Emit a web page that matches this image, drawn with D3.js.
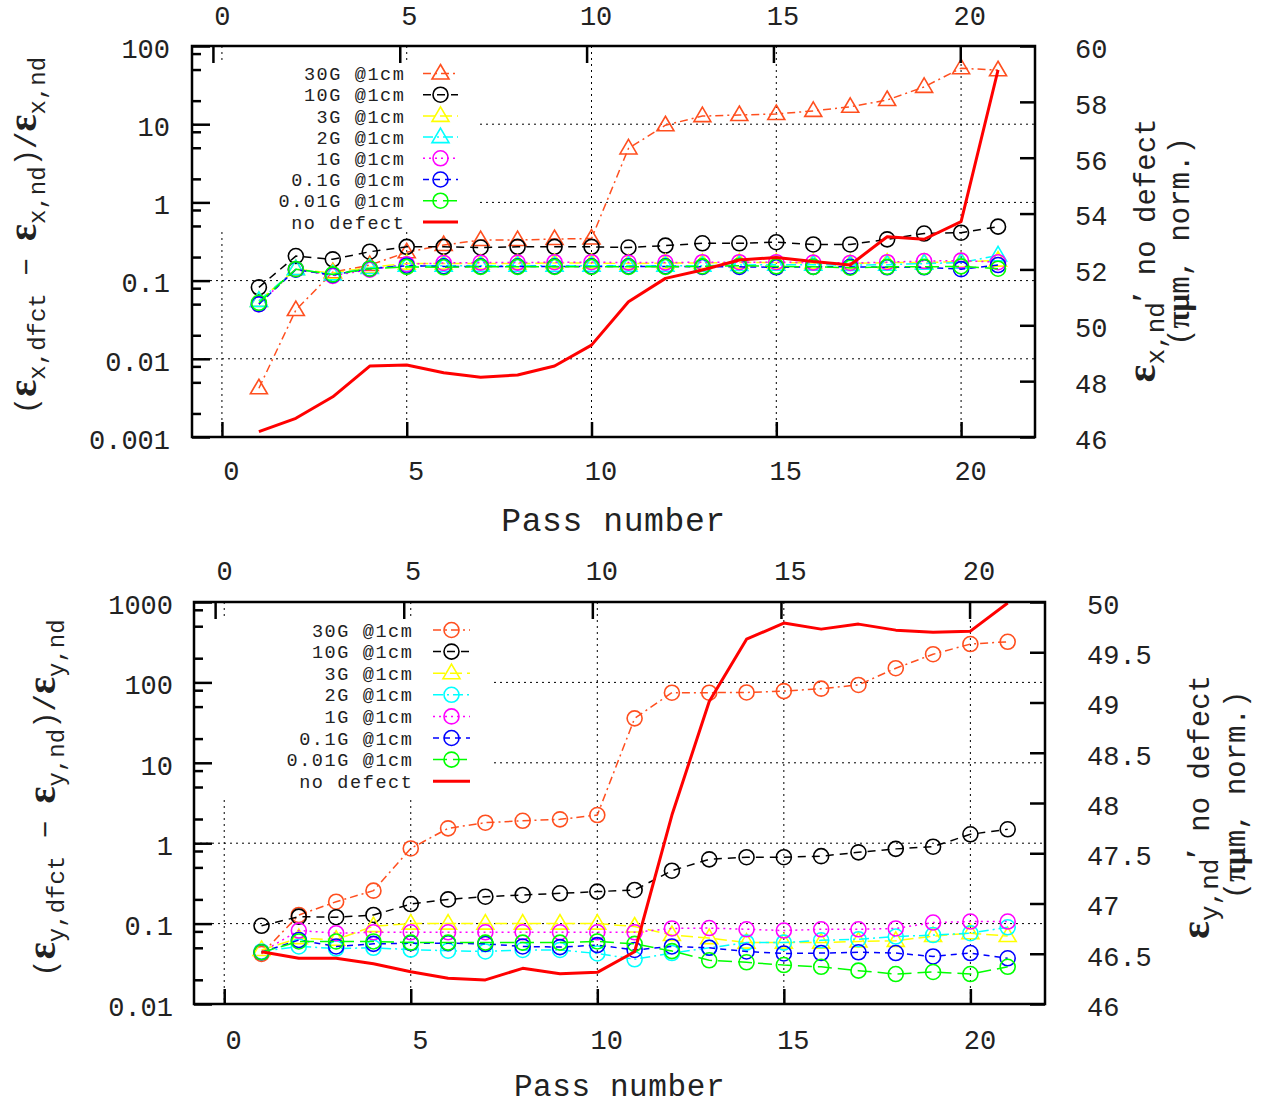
<!DOCTYPE html>
<html><head><meta charset="utf-8">
<script src="https://cdn.jsdelivr.net/npm/d3@7"></script>
<style>
body{margin:0;background:#fff}
svg{display:block}
text{font-family:"Liberation Mono","Courier New",monospace;fill:#222}
.eps{font-family:"Liberation Serif","DejaVu Serif",serif;font-weight:bold}
</style>
</head><body><svg id="c" width="1268" height="1105"></svg>
<script>
// ---------------- data ----------------
const passes = [1,2,3,4,5,6,7,8,9,10,11,12,13,14,15,16,17,18,19,20,21];
const xTickValues = [0,5,10,15,20];
const seriesNames = ["30G @1cm","10G @1cm","3G @1cm","2G @1cm","1G @1cm","0.1G @1cm","0.01G @1cm"];
const noDefectName = "no defect";
const minorMultipliers = [2,5,8];

// top panel: horizontal emittance
const topY1Ticks = [0.001,0.01,0.1,1,10,100];
const topY1Labels = ["0.001","0.01","0.1","1","10","100"];
const topY2Ticks = [46,48,50,52,54,56,58,60];
const xEm30G  = [0.0042,0.042,0.128,0.158,0.23,0.285,0.33,0.33,0.34,0.345,4.9,9.7,12.7,13.1,13.5,14.8,16.7,20.4,30,52,49];
const xEm10G  = [0.082,0.206,0.187,0.234,0.27,0.27,0.265,0.27,0.27,0.27,0.265,0.28,0.30,0.30,0.31,0.29,0.29,0.337,0.40,0.41,0.49];
const xEm3G   = [0.055,0.14,0.125,0.148,0.165,0.165,0.165,0.165,0.168,0.168,0.165,0.168,0.168,0.17,0.17,0.168,0.165,0.17,0.17,0.175,0.18];
const xEm2G   = [0.055,0.14,0.12,0.145,0.155,0.155,0.155,0.155,0.155,0.155,0.155,0.155,0.155,0.158,0.16,0.16,0.158,0.16,0.165,0.17,0.21];
const xEm1G   = [0.05,0.14,0.115,0.138,0.162,0.168,0.17,0.17,0.172,0.172,0.17,0.17,0.172,0.172,0.172,0.17,0.168,0.172,0.178,0.18,0.172];
const xEm01G  = [0.05,0.138,0.118,0.142,0.155,0.152,0.152,0.152,0.152,0.152,0.152,0.152,0.15,0.15,0.148,0.15,0.15,0.148,0.148,0.14,0.158];
const xEm001G = [0.052,0.14,0.12,0.142,0.15,0.148,0.15,0.15,0.15,0.15,0.15,0.15,0.152,0.155,0.152,0.15,0.146,0.15,0.15,0.152,0.142];
const xEmNoDefect = [46.19,46.67,47.44,48.54,48.58,48.30,48.14,48.22,48.54,49.29,50.84,51.68,51.98,52.34,52.43,52.28,52.16,53.17,53.08,53.71,59.14];

// bottom panel: vertical emittance
const botY1Ticks = [0.01,0.1,1,10,100,1000];
const botY1Labels = ["0.01","0.1","1","10","100","1000"];
const botY2Ticks = [46,46.5,47,47.5,48,48.5,49,49.5,50];
const yEm30G  = [0.042,0.128,0.187,0.257,0.86,1.53,1.80,1.9,1.98,2.24,35.7,74.5,74.5,75,78,83.6,93,150,224,300,320];
const yEm10G  = [0.094,0.122,0.12,0.128,0.175,0.20,0.216,0.227,0.238,0.25,0.262,0.455,0.63,0.67,0.67,0.69,0.77,0.85,0.905,1.29,1.49];
const yEm3G   = [0.047,0.066,0.063,0.093,0.10,0.10,0.10,0.10,0.10,0.10,0.092,0.072,0.066,0.058,0.058,0.058,0.060,0.061,0.070,0.076,0.070];
const yEm2G   = [0.045,0.052,0.049,0.050,0.0475,0.046,0.045,0.047,0.047,0.0425,0.036,0.043,0.050,0.058,0.058,0.062,0.064,0.069,0.072,0.076,0.09];
const yEm1G   = [0.044,0.082,0.076,0.078,0.078,0.078,0.078,0.078,0.078,0.078,0.078,0.087,0.088,0.085,0.082,0.085,0.085,0.087,0.103,0.106,0.106];
const yEm01G  = [0.044,0.0625,0.052,0.056,0.057,0.057,0.056,0.052,0.051,0.054,0.047,0.052,0.050,0.045,0.0425,0.043,0.044,0.043,0.039,0.043,0.037];
const yEm001G = [0.044,0.060,0.060,0.060,0.058,0.058,0.058,0.058,0.058,0.060,0.056,0.0455,0.035,0.033,0.0305,0.029,0.026,0.0236,0.025,0.0236,0.029];
const yEmNoDefect = [46.52,46.455,46.455,46.40,46.32,46.256,46.24,46.355,46.30,46.315,46.52,47.88,49.01,49.63,49.79,49.73,49.78,49.72,49.70,49.71,49.99];

// ---------------- styles ----------------
const colors = ["#ff4f1f","#000000","#ffff00","#00ffff","#ff00ff","#0000ff","#00ff00"];
const dashes = ["8,4,2,4","8,6","12,5","10,4,2,4","2,4","6,5","14,6"];
const noDefColor = "#ff0000";

const svg = d3.select("#c");

function marker(g, kind, cx, cy, color) {
  if (kind === "c") {
    g.append("circle").attr("cx",cx).attr("cy",cy).attr("r",7.5)
      .attr("fill","none").attr("stroke",color).attr("stroke-width",1.6);
  } else {
    g.append("path").attr("d",`M${cx},${cy-9}L${cx+8.5},${cy+5.5}L${cx-8.5},${cy+5.5}Z`)
      .attr("fill","none").attr("stroke",color).attr("stroke-width",1.6);
  }
}

function panel(cfg) {
  const g = svg.append("g");
  const x  = d3.scaleLinear().domain([-0.81,22]).range([cfg.L,cfg.R]);
  const x2 = d3.scaleLinear().domain([-0.56,22]).range([cfg.L,cfg.R]);
  const y  = d3.scaleLog().domain(cfg.y1Dom).range([cfg.B,cfg.T]);
  const y2 = d3.scaleLinear().domain(cfg.y2Dom).range([cfg.B,cfg.T]);

  const clipId = "clip"+cfg.id;
  svg.append("clipPath").attr("id",clipId).append("rect")
    .attr("x",cfg.L).attr("y",cfg.T).attr("width",cfg.R-cfg.L).attr("height",cfg.B-cfg.T);

  // grid
  const grid = g.append("g").attr("stroke","#000").attr("stroke-width",1).attr("stroke-dasharray","2,4");
  xTickValues.forEach(v => grid.append("line").attr("x1",x(v)).attr("x2",x(v)).attr("y1",cfg.T).attr("y2",cfg.B));
  cfg.y1Ticks.slice(1,-1).forEach(v => grid.append("line").attr("x1",cfg.L).attr("x2",cfg.R).attr("y1",y(v)).attr("y2",y(v)));

  // opaque key box
  g.append("rect").attr("x",cfg.key.x0).attr("y",cfg.key.y0)
    .attr("width",cfg.key.x1-cfg.key.x0).attr("height",cfg.key.y1-cfg.key.y0).attr("fill","#fff");

  // series
  const plot = g.append("g").attr("clip-path",`url(#${clipId})`);
  cfg.series.forEach((s,i) => {
    const line = d3.line().x((d,j)=>x(passes[j])).y(d=>y(d));
    plot.append("path").datum(s).attr("d",line).attr("fill","none")
      .attr("stroke",colors[i]).attr("stroke-width",1.5).attr("stroke-dasharray",dashes[i]);
    s.forEach((d,j)=>marker(plot,cfg.markers[i],x(passes[j]),y(d),colors[i]));
  });
  const nd = d3.line().x((d,j)=>x(passes[j])).y(d=>y2(d));
  plot.append("path").datum(cfg.noDef).attr("d",nd).attr("fill","none")
    .attr("stroke",noDefColor).attr("stroke-width",3).attr("stroke-linejoin","round");

  // legend
  const k = cfg.key;
  seriesNames.concat([noDefectName]).forEach((name,i) => {
    const yy = k.row0 + i*k.step;
    g.append("text").attr("x",k.textR+1.5).attr("y",yy).attr("dy","0.36em")
      .attr("text-anchor","end").attr("font-size",18.5).attr("letter-spacing",1.6).text(name);
    if (i < seriesNames.length) {
      g.append("line").attr("x1",k.s0).attr("x2",k.s1).attr("y1",yy).attr("y2",yy)
        .attr("stroke",colors[i]).attr("stroke-width",1.5).attr("stroke-dasharray",dashes[i]);
      marker(g,cfg.markers[i],(k.s0+k.s1)/2,yy,colors[i]);
    } else {
      g.append("line").attr("x1",k.s0).attr("x2",k.s1).attr("y1",yy).attr("y2",yy)
        .attr("stroke",noDefColor).attr("stroke-width",3);
    }
  });

  // axes
  const fs = 27;
  const ax = g.append("g").attr("transform",`translate(0,${cfg.B})`)
    .call(d3.axisBottom(x).tickValues(xTickValues).tickSizeInner(-15).tickSizeOuter(0).tickFormat(d3.format("d")));
  ax.selectAll("text").attr("y",cfg.xLabOff).attr("dy","0.35em").attr("dx",9).attr("font-size",fs);
  const ax2 = g.append("g").attr("transform",`translate(0,${cfg.T})`)
    .call(d3.axisTop(x2).tickValues(xTickValues).tickSizeInner(-17).tickSizeOuter(0).tickFormat(d3.format("d")));
  ax2.selectAll("text").attr("y",-cfg.x2LabOff).attr("dy","0.35em").attr("dx",9).attr("font-size",fs);

  const minors = [];
  cfg.y1Ticks.slice(0,-1).forEach(d => minorMultipliers.forEach(m => minors.push(d*m)));
  const ay = g.append("g").attr("transform",`translate(${cfg.L},0)`)
    .call(d3.axisLeft(y).tickValues(cfg.y1Ticks).tickSizeInner(-18).tickSizeOuter(0)
      .tickFormat((d,i)=>cfg.y1Labels[i]));
  ay.selectAll("text").attr("x",-cfg.y1LabOff).attr("dy","0.42em").attr("font-size",fs);
  g.append("g").attr("transform",`translate(${cfg.L},0)`)
    .call(d3.axisLeft(y).tickValues(minors).tickSizeInner(-9).tickSizeOuter(0).tickFormat(""));
  const ay2 = g.append("g").attr("transform",`translate(${cfg.R},0)`)
    .call(d3.axisRight(y2).tickValues(cfg.y2Ticks).tickSizeInner(-15).tickSizeOuter(0).tickFormat(d=>String(d)));
  ay2.selectAll("text").attr("x",cfg.y2LabOff).attr("dy","0.42em").attr("font-size",fs);

  g.selectAll(".domain").remove();
  g.selectAll(".tick line").attr("stroke","#000").attr("stroke-width",2.5);
  g.selectAll(".tick text").attr("fill","#222").attr("font-family","Liberation Mono");

  // frame
  g.append("rect").attr("x",cfg.L).attr("y",cfg.T).attr("width",cfg.R-cfg.L).attr("height",cfg.B-cfg.T)
    .attr("fill","none").attr("stroke","#000").attr("stroke-width",2.5);

  // x label
  g.append("text").attr("x",(cfg.L+cfg.R)/2+cfg.xTitleDx).attr("y",cfg.xTitleY).attr("dy","0.35em")
    .attr("text-anchor","middle").attr("font-size",cfg.xTitleFs).attr("letter-spacing",0.6).text("Pass number");

  // left y label
  const cy = (cfg.T+cfg.B)/2;
  const lt = g.append("text").attr("transform",`translate(${cfg.yTitleX},${cy+cfg.yTitleDy}) rotate(-90)`)
    .attr("text-anchor","middle").attr("font-size",29);
  const a = cfg.axisSym;
  lt.append("tspan").text("(");
  lt.append("tspan").attr("class","eps").attr("font-size",40).text("ε");
  lt.append("tspan").attr("dy",9).attr("font-size",24).text(a+",dfct");
  lt.append("tspan").attr("dy",-9).text(" − ");
  lt.append("tspan").attr("class","eps").attr("font-size",40).text("ε");
  lt.append("tspan").attr("dy",9).attr("font-size",24).text(a+",nd");
  lt.append("tspan").attr("dy",-9).text(")/");
  lt.append("tspan").attr("class","eps").attr("font-size",40).text("ε");
  lt.append("tspan").attr("dy",9).attr("font-size",24).text(a+",nd");

  // right y label (two lines)
  const r1 = g.append("text").attr("transform",`translate(${cfg.y2TitleX1},${cy+cfg.y2TitleDy1}) rotate(-90)`)
    .attr("text-anchor","middle").attr("font-size",29);
  r1.append("tspan").attr("class","eps").attr("font-size",42).text("ε");
  r1.append("tspan").attr("dy",9).attr("font-size",26).text(a+",nd");
  r1.append("tspan").attr("dy",-9).attr("class","eps").attr("font-size",34).text("′");
  r1.append("tspan").text("  no defect");
  const r2 = g.append("text").attr("transform",`translate(${cfg.y2TitleX2},${cy+cfg.y2TitleDy2}) rotate(-90)`)
    .attr("text-anchor","middle").attr("font-size",29);
  r2.append("tspan").text("(");
  r2.append("tspan").attr("class","eps").attr("font-size",31).text("πμ");
  r2.append("tspan").text("m, norm.)");
}

panel({id:"top", L:192, R:1035, T:46, B:437,
  y1Dom:[0.001,100], y2Dom:[46,60], y1Ticks:topY1Ticks, y1Labels:topY1Labels, y2Ticks:topY2Ticks,
  series:[xEm30G,xEm10G,xEm3G,xEm2G,xEm1G,xEm01G,xEm001G], noDef:xEmNoDefect,
  markers:["t","c","t","t","c","c","c"],
  key:{x0:196,y0:63,x1:478,y1:232,textR:404,s0:423,s1:458,row0:73.5,step:21.2},
  xLabOff:34, x2LabOff:30, y1LabOff:22, y2LabOff:40,
  xTitleY:519, xTitleDx:0, xTitleFs:33,
  yTitleX:36, yTitleDy:-6, y2TitleX1:1155, y2TitleDy1:9, y2TitleX2:1189, y2TitleDy2:0,
  axisSym:"x"});

panel({id:"bot", L:194, R:1045, T:602, B:1004,
  y1Dom:[0.01,1000], y2Dom:[46,50], y1Ticks:botY1Ticks, y1Labels:botY1Labels, y2Ticks:botY2Ticks,
  series:[yEm30G,yEm10G,yEm3G,yEm2G,yEm1G,yEm01G,yEm001G], noDef:yEmNoDefect,
  markers:["c","c","t","c","c","c","c"],
  key:{x0:198,y0:619,x1:492,y1:797,textR:412,s0:433,s1:470,row0:630,step:21.6},
  xLabOff:36, x2LabOff:31, y1LabOff:21, y2LabOff:42,
  xTitleY:1085, xTitleDx:0, xTitleFs:31,
  yTitleX:55, yTitleDy:-5, y2TitleX1:1209, y2TitleDy1:4, y2TitleX2:1245, y2TitleDy2:-8,
  axisSym:"y"});
</script>
</body></html>
